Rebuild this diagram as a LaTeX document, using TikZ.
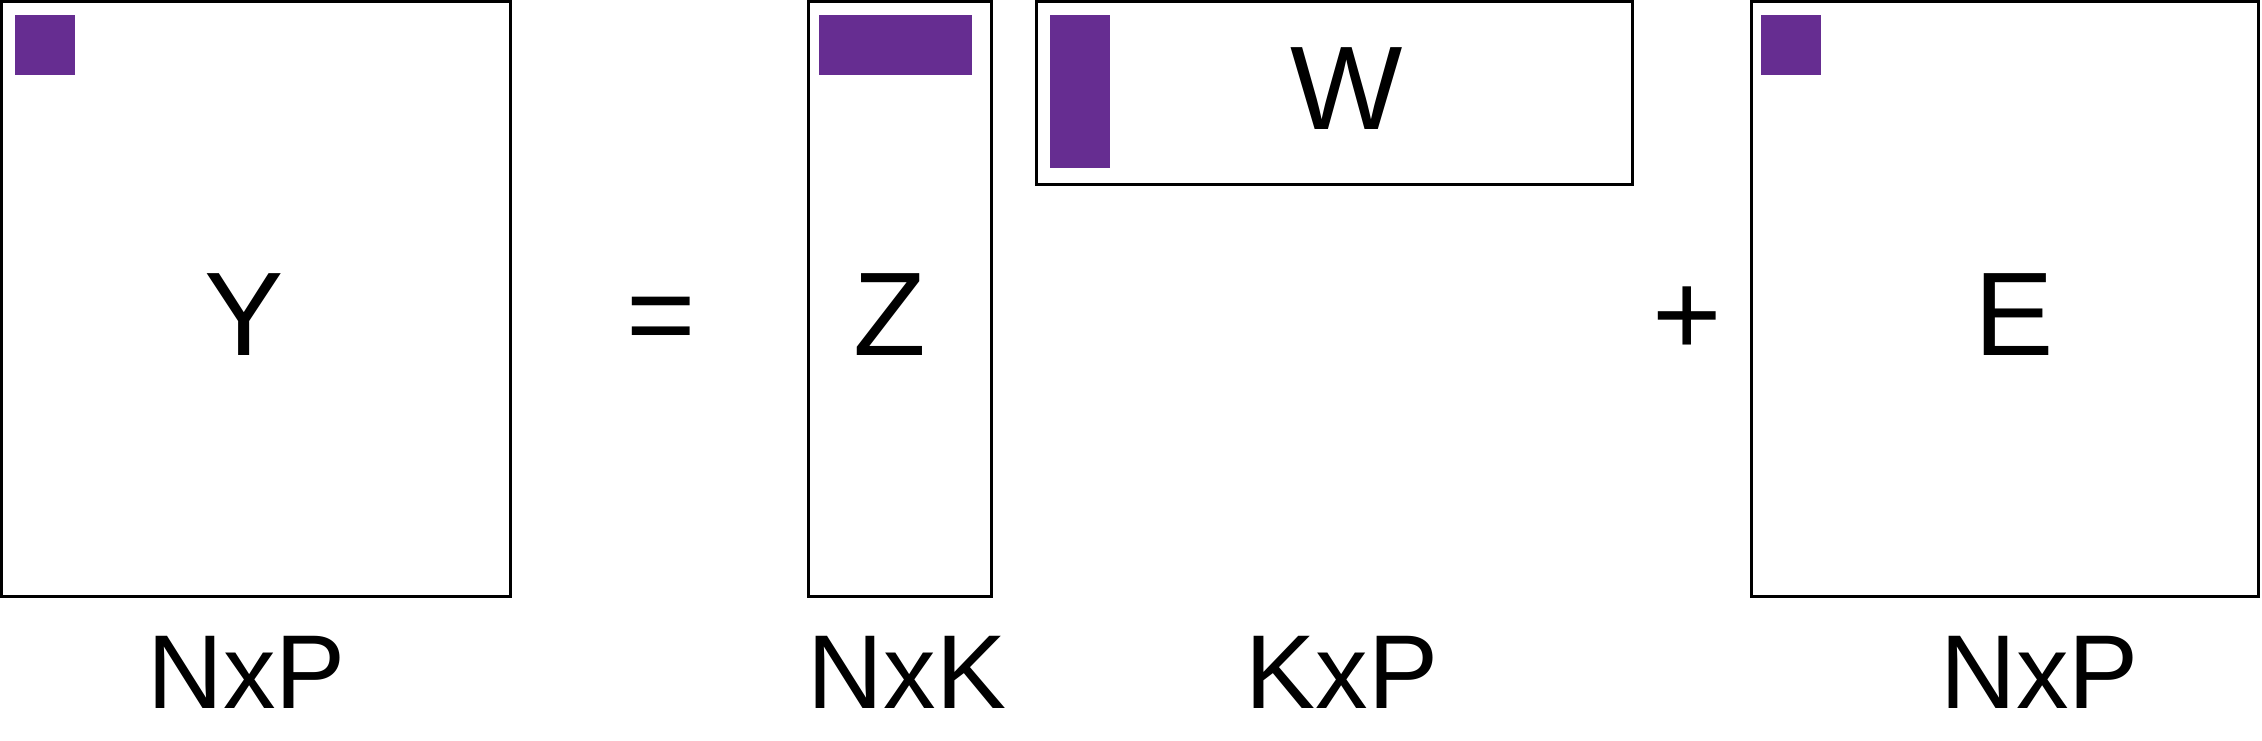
\documentclass[tikz,border=0pt]{standalone}
\usepackage{fontspec}
\setmainfont{Liberation Sans}
\definecolor{cellpurple}{HTML}{662D91}
\tikzset{
  matbox/.style={draw=black, line width=3pt, fill=white, inner sep=0pt, rectangle},
  cell/.style={fill=cellpurple, draw=none, inner sep=0pt, rectangle},
  bigsym/.style={inner sep=0pt, anchor=base, font=\fontsize{119}{119}\selectfont},
  dimlabel/.style={inner sep=0pt, anchor=base, font=\fontsize{105}{105}\selectfont}
}
\begin{document}
\begin{tikzpicture}[x=1pt,y=-1pt]
\useasboundingbox (0,0) rectangle (2262,741);
% matrix boxes (stroke centred)
\node[matbox, minimum width=509pt, minimum height=595pt] (Ybox) at (256,299) {};
\node[matbox, minimum width=183pt, minimum height=595pt] (Zbox) at (900,299) {};
\node[matbox, minimum width=596.5pt, minimum height=182.5pt] (Wbox) at (1334.25,92.75) {};
\node[matbox, minimum width=507pt, minimum height=595pt] (Ebox) at (2005,299) {};
% purple cells
\node[cell, minimum width=60pt, minimum height=60pt] (Ycell) at (45,45) {};
\node[cell, minimum width=153pt, minimum height=60pt] (Zcell) at (895.5,45) {};
\node[cell, minimum width=60pt, minimum height=153pt] (Wcell) at (1080,91.5) {};
\node[cell, minimum width=60pt, minimum height=60pt] (Ecell) at (1791,45) {};
% letters and operators
\node[bigsym] (Ylet) at (244,355) {Y};
\node[bigsym] (eq) at (661,355) {=};
\node[bigsym] (Zlet) at (890,355) {Z};
\node[bigsym] (Wlet) at (1347,130) {W};
\node[bigsym] (plus) at (1687,355) {+};
\node[bigsym] (Elet) at (2014,355) {E};
% dimension labels
\node[dimlabel] (Ydim) at (246.5,708) {NxP};
\node[dimlabel] (Zdim) at (907,708) {NxK};
\node[dimlabel] (Wdim) at (1342,708) {KxP};
\node[dimlabel] (Edim) at (2039.5,708) {NxP};
\end{tikzpicture}
\end{document}
